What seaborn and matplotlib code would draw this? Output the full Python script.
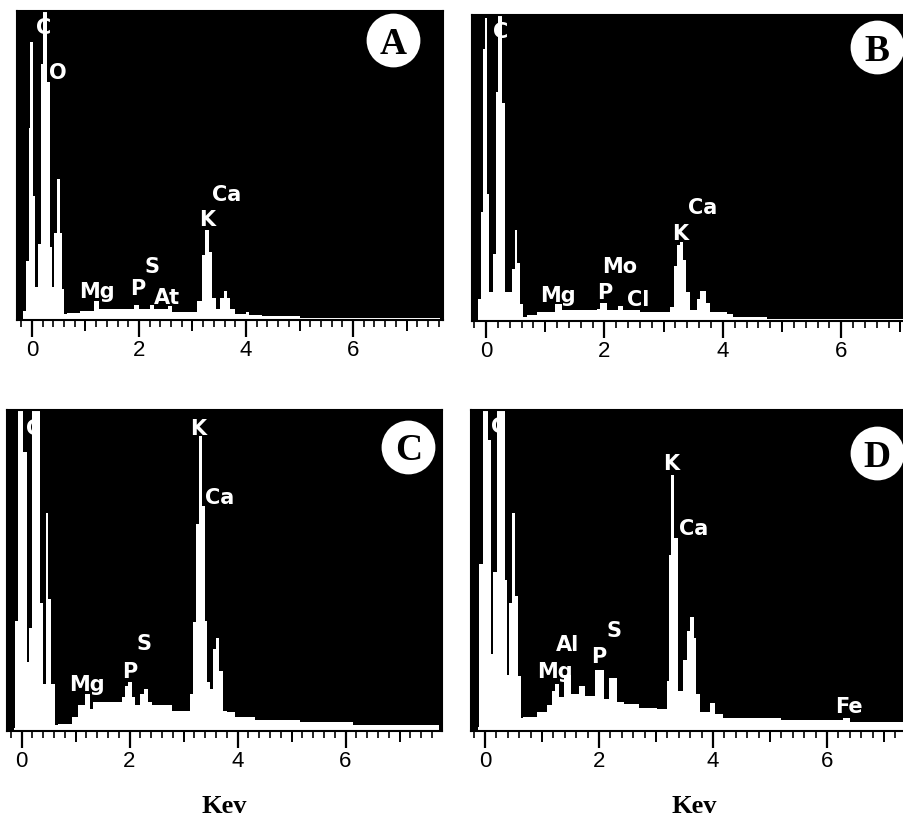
import matplotlib
matplotlib.use("Agg")
import matplotlib.pyplot as plt
import matplotlib.transforms as mtransforms
from matplotlib.ticker import MultipleLocator
import seaborn as sns

# EDS spectra: channel edges (keV) and counts (% of full scale)
a_edges = [-0.16, -0.11, -0.06, -0.04, 0.02, 0.06, 0.11, 0.16, 0.21, 0.28,
           0.33, 0.37, 0.42, 0.46, 0.52, 0.56, 0.60, 0.65, 0.9, 1.15,
           1.25, 1.5, 1.9, 2.0, 2.2, 2.28, 2.55, 2.62, 3.08, 3.18,
           3.24, 3.30, 3.36, 3.43, 3.52, 3.58, 3.64, 3.71, 3.80, 4.0,
           4.05, 4.3, 5.0, 7.63]
a_counts = [3, 19, 62, 90, 40, 10.6, 24.5, 83, 110, 77,
            23.5, 10.6, 28, 45.6, 28, 10, 2, 2.3, 2.8, 6,
            3.5, 3.5, 5, 3.5, 5, 3.5, 4.5, 2.5, 6, 21,
            29, 22, 7, 3.5, 7, 9.5, 7, 3.5, 2, 2.5,
            1.7, 1.4, 0.7]

b_edges = [-0.13, -0.09, -0.045, -0.017, 0.023, 0.056, 0.113, 0.169, 0.208, 0.276,
           0.32, 0.434, 0.49, 0.53, 0.574, 0.62, 0.687, 0.856, 1.166, 1.278,
           1.87, 1.93, 2.04, 2.235, 2.32, 2.6, 3.11, 3.18, 3.23, 3.27,
           3.32, 3.38, 3.45, 3.56, 3.61, 3.72, 3.78, 4.07, 4.18, 4.74,
           7.2]
b_counts = [7.3, 35.5, 89, 99, 41.5, 9.5, 22, 74.7, 101, 71.4,
            9.5, 17, 29.6, 19, 5.7, 1.3, 1.8, 3, 5.7, 3.5,
            4, 6, 3.5, 5, 3.5, 3.0, 4.6, 18, 24.7, 25.8,
            20, 9.5, 3.5, 7.3, 9.7, 6, 3, 2.3, 1.3, 0.6]

c_edges = [-0.14, -0.12, -0.06, 0.03, 0.10, 0.14, 0.19, 0.34, 0.40, 0.45,
           0.49, 0.55, 0.62, 0.68, 0.93, 1.05, 1.18, 1.27, 1.33, 1.86,
           1.92, 1.98, 2.04, 2.10, 2.19, 2.275, 2.35, 2.41, 2.78, 3.12,
           3.18, 3.24, 3.29, 3.34, 3.39, 3.43, 3.49, 3.55, 3.61, 3.66,
           3.74, 3.80, 3.95, 4.32, 5.15, 6.14, 7.73]
c_counts = [1, 34.4, 130, 87, 21.4, 32, 130, 40, 14.7, 68,
            41, 14.7, 2, 2.2, 4.5, 8, 11.5, 7, 9, 10.5,
            14, 15.2, 10.5, 8, 11.5, 13, 9, 8, 6.3, 11.5,
            34, 64.5, 92, 70, 34.4, 15.2, 13, 25.6, 29, 18.8,
            6.3, 5.8, 4.3, 3.3, 2.8, 1.8]

d_edges = [-0.13, -0.10, -0.04, 0.06, 0.10, 0.146, 0.205, 0.35, 0.39, 0.427,
           0.468, 0.526, 0.585, 0.626, 0.67, 0.906, 1.08, 1.17, 1.23, 1.29,
           1.38, 1.50, 1.64, 1.76, 1.93, 2.08, 2.17, 2.31, 2.43, 2.70,
           3.01, 3.19, 3.23, 3.27, 3.32, 3.39, 3.48, 3.54, 3.60, 3.67,
           3.71, 3.77, 3.95, 4.03, 4.18, 5.2, 6.28, 6.4, 7.4]
d_counts = [1.1, 52, 130, 90.6, 24, 49.5, 130, 47, 17.3, 40,
            68, 42, 17, 4, 4.3, 5.8, 8, 12.6, 14.7, 10.5,
            17.5, 11.5, 14, 11, 19, 10, 16.5, 9, 8.5, 7.2,
            6.9, 15.7, 54.7, 79.7, 60, 12.6, 22, 31, 35.5, 29,
            11.5, 6, 8.8, 5.2, 4.2, 3.3, 4.2, 2.8]

# element labels: (symbol, keV, height)
a_labels = [("C", 0.22, 92.8), ("O", 0.48, 78.2), ("Mg", 1.21, 7.5), ("P", 1.97, 8.4),
            ("S", 2.24, 15.4), ("At", 2.53, 5.5), ("K", 3.27, 30.7), ("Ca", 3.64, 38.8)]
b_labels = [("C", 0.25, 92.7), ("Mg", 1.22, 6.6), ("P", 2.0, 7.4), ("Mo", 2.26, 15.9),
            ("Cl", 2.57, 5.2), ("K", 3.28, 26.8), ("Ca", 3.66, 35.3)]
c_labels = [("C", 0.23, 92.5), ("Mg", 1.21, 12.8), ("P", 2.0, 16.9), ("S", 2.27, 25.5),
            ("K", 3.27, 92.5), ("Ca", 3.66, 71.0)]
d_labels = [("C", 0.23, 93.0), ("Mg", 1.23, 16.7), ("Al", 1.45, 25.3), ("P", 1.99, 21.4),
            ("S", 2.26, 29.7), ("K", 3.27, 81.6), ("Ca", 3.66, 61.4), ("Fe", 6.39, 5.8)]

tick_vals = [0, 2, 4, 6]
tick_text = ["0", "2", "4", "6"]

sns.set_style("ticks")
plt.rcParams["font.family"] = ["DejaVu Sans"]

W, H = 904, 829
fig = plt.figure(figsize=(W / 100, H / 100), dpi=100)


def panel(box, xlim, edges, counts, labels, letter, badge, xlabel=False):
    x0, x1, y0, y1 = box
    ax = fig.add_axes([x0 / W, 1 - y1 / H, (x1 - x0) / W, (y1 - y0) / H])
    centers = [(edges[i] + edges[i + 1]) / 2 for i in range(len(counts))]
    sns.histplot(x=centers, weights=counts, bins=edges, element="step", fill=True,
                 color="white", alpha=1, linewidth=0, ax=ax)
    ax.set_facecolor("black")
    ax.set_xlim(*xlim)
    ax.set_ylim(0, 100)
    ax.set_ylabel("")
    ax.set_xlabel("")
    ax.set_yticks([])
    for s in ax.spines.values():
        s.set_visible(True)
        s.set_color("black")
        s.set_linewidth(1.5)

    ax.set_xticks(tick_vals)
    ax.set_xticklabels(tick_text, family=["Liberation Sans", "DejaVu Sans"], fontsize=16,
                       color="black")
    ax.xaxis.set_minor_locator(MultipleLocator(0.2))
    ax.tick_params(axis="x", which="major", bottom=True, length=12, width=1.6,
                   color="black", pad=2, direction="out")
    ax.tick_params(axis="x", which="minor", bottom=True, length=5, width=1.2,
                   color="black", direction="out")
    sec = ax.secondary_xaxis("bottom")
    sec.set_xticks([1, 3, 5, 7])
    sec.tick_params(length=8, width=1.4, color="black", labelbottom=False)
    sec.spines["bottom"].set_visible(False)

    for txt, e, h in labels:
        ax.text(e, h, txt, color="white", fontsize=15, fontweight="bold",
                ha="center", va="baseline")

    ax.scatter([badge[0]], [badge[1]], s=1500, color="white", transform=ax.transAxes,
               clip_on=False, zorder=5, linewidths=0)
    off = mtransforms.offset_copy(ax.transAxes, fig=fig, x=0, y=-12.5, units="dots")
    ax.text(badge[0], badge[1], letter, transform=off, ha="center", va="baseline",
            fontsize=27, fontweight="bold", family=["Liberation Serif", "DejaVu Serif"],
            color="black", zorder=6, clip_on=False)
    if xlabel:
        ax.set_xlabel("Kev", fontsize=19, fontweight="bold", color="black",
                      family=["Liberation Serif", "DejaVu Serif"], labelpad=16)
    return ax


panel((17, 443, 12, 321), (-0.280, 7.682), a_edges, a_counts, a_labels, "A", (0.883, 0.905))
panel((472, 936, 16, 322), (-0.236, 7.60), b_edges, b_counts, b_labels, "B", (0.873, 0.894))
panel((7, 442, 411, 732), (-0.269, 7.787), c_edges, c_counts, c_labels, "C", (0.9225, 0.886), True)
panel((471, 918, 411, 732), (-0.246, 7.596), d_edges, d_counts, d_labels, "D", (0.908, 0.866), True)

fig.savefig("out.png", dpi=100, facecolor="white")
